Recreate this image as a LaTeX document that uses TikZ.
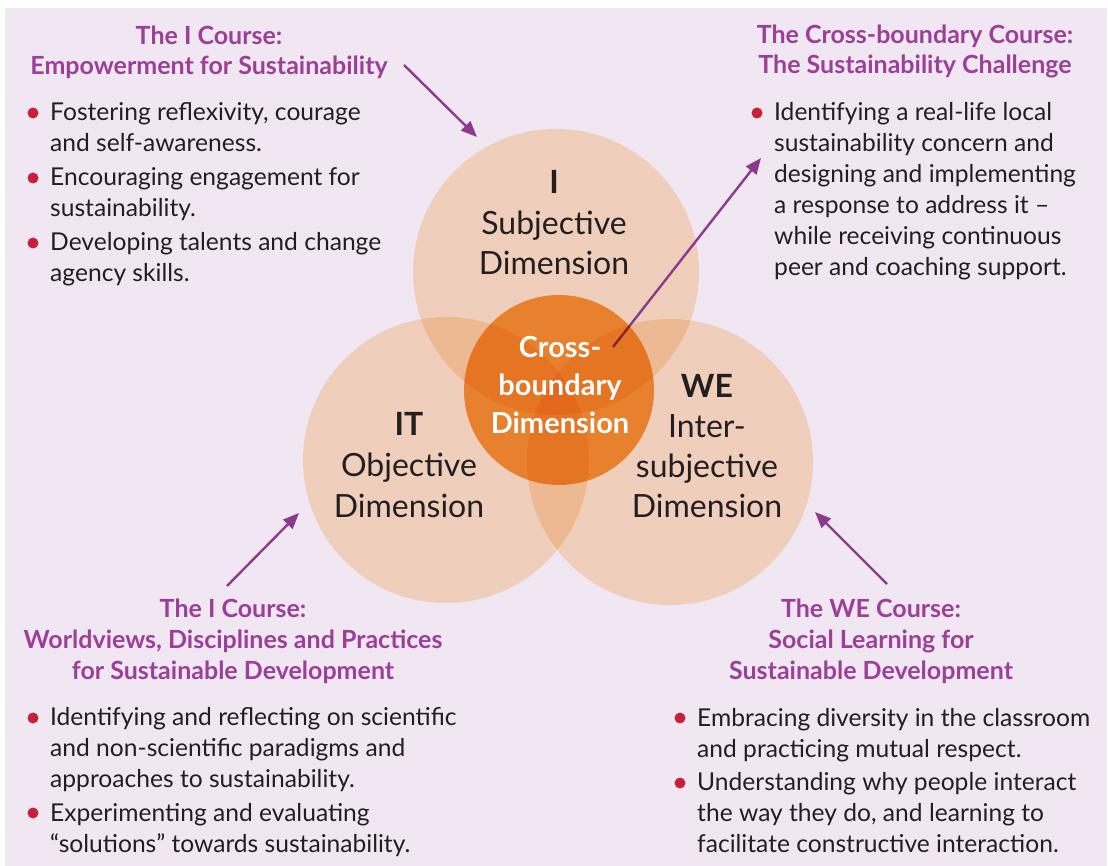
\documentclass[tikz,border=0pt]{standalone}
\usepackage{fontspec}
\setmainfont{Lato}
\usetikzlibrary{arrows.meta}
\definecolor{bg}{HTML}{F1E7F2}
\definecolor{peach}{HTML}{FDE5C7}
\definecolor{orng}{HTML}{F7A03E}
\definecolor{txt}{HTML}{231F20}
\definecolor{ttl}{HTML}{9B3F98}
\definecolor{arrc}{HTML}{8B3A8E}
\definecolor{bulred}{HTML}{C8203A}
\tikzset{
  bigc/.style={circle, minimum size=286pt, inner sep=0pt, fill=peach, blend mode=multiply},
  cenc/.style={circle, minimum size=190pt, inner sep=0pt, fill=orng, blend mode=multiply},
  body/.style={font=\fontsize{24.6}{31}\selectfont, text=txt, anchor=base west, align=left, inner sep=0pt},
  ttlx/.style={font=\bfseries\fontsize{25}{31}\selectfont, text=ttl, anchor=base, align=center, inner sep=0pt},
  bul/.style={circle, fill=bulred, minimum size=11pt, inner sep=0pt},
  dimt/.style={font=\fontsize{32}{40.5}\selectfont, text=txt, align=center, anchor=base, inner sep=0pt},
  cent/.style={font=\bfseries\fontsize{29}{38}\selectfont, text=white, align=center, anchor=base, inner sep=0pt},
  arr/.style={draw=arrc, line width=2.4pt, -{Triangle[length=16pt,width=13pt]}}
}
\begin{document}
\begin{tikzpicture}[x=1pt,y=-1pt]
\useasboundingbox (0,0) rectangle (1108,866);
\fill[white] (0,0) rectangle (1108,866);
\fill[bg] (5,8) rectangle (1107,866);
% big circles
\node[bigc] (ci) at (556,272) {};
\node[bigc] (cit) at (446,460) {};
\node[bigc] (cwe) at (670,462) {};
% arrow from centre (under the centre circle)
\coordinate (a2s) at (613,347);
\coordinate (a2e) at (761,158);
\draw[arr] (a2s) -- (a2e);
\node[cenc] (cc) at (559,390) {};
% circle texts (anchored at the baseline of the last line)
\node[dimt] (ti) at (554,275) {\textbf{I}\\Subjective\\Dimension};
\node[dimt, font=\fontsize{32}{41}\selectfont] (tit) at (409,517) {\textbf{IT}\\Objective\\Dimension};
\node[dimt, font=\fontsize{32}{40}\selectfont] (twe) at (707,517) {\textbf{WE}\\Inter-\\subjective\\Dimension};
\node[cent] (tc) at (560,433) {Cross-\\boundary\\Dimension};
% titles
\node[ttlx, font=\bfseries\fontsize{25}{30}\selectfont] (h1) at (209,75) {The I Course:\\Empowerment for Sustainability};
\node[ttlx, font=\bfseries\fontsize{25}{30}\selectfont] (h2) at (915,74) {The Cross-boundary Course:\\The Sustainability Challenge};
\node[ttlx] (h3) at (233,679) {The I Course:\\Worldviews, Disciplines and Practices\\for Sustainable Development};
\node[ttlx] (h4) at (871,679) {The WE Course:\\Social Learning for\\Sustainable Development};
% top-left bullets
\node[bul] (b11) at (33,113) {};
\node[body] (t11) at (50,152) {Fostering reflexivity, courage\\and self-awareness.};
\node[bul] (b12) at (33,178) {};
\node[body] (t12) at (50,217) {Encouraging engagement for\\sustainability.};
\node[bul] (b13) at (33,243) {};
\node[body] (t13) at (50,282) {Developing talents and change\\agency skills.};
% top-right bullet
\node[bul] (b21) at (757,113) {};
\node[body] (t21) at (774,276) {Identifying a real-life local\\sustainability concern and\\designing and implementing\\a response to address it –\\while receiving continuous\\peer and coaching support.};
% bottom-left bullets
\node[bul] (b31) at (33,718) {};
\node[body] (t31) at (50,787) {Identifying and reflecting on scientific\\and non-scientific paradigms and\\approaches to sustainability.};
\node[bul] (b32) at (33,813) {};
\node[body] (t32) at (50,852) {Experimenting and evaluating\\“solutions” towards sustainability.};
% bottom-right bullets
\node[bul] (b41) at (680,718) {};
\node[body] (t41) at (697,757) {Embracing diversity in the classroom\\and practicing mutual respect.};
\node[bul] (b42) at (680,783) {};
\node[body] (t42) at (697,852) {Understanding why people interact\\the way they do, and learning to\\facilitate constructive interaction.};
% arrows
\coordinate (a1s) at (404,65);
\coordinate (a1e) at (477,137);
\draw[arr] (a1s) -- (a1e);
\coordinate (a3s) at (227,586);
\coordinate (a3e) at (299,513);
\draw[arr] (a3s) -- (a3e);
\coordinate (a4s) at (887,584);
\coordinate (a4e) at (815,512);
\draw[arr] (a4s) -- (a4e);
\end{tikzpicture}
\end{document}
